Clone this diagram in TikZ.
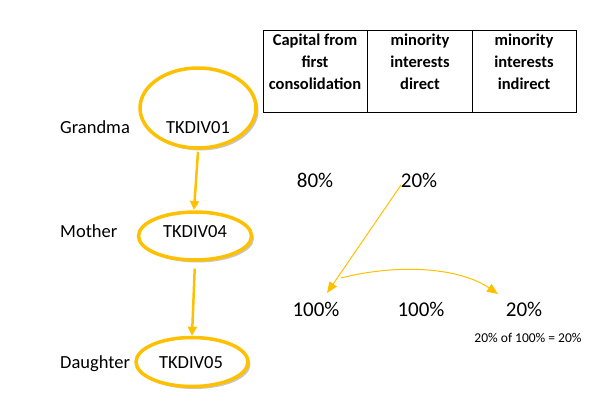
\documentclass[tikz,border=0pt]{standalone}
\usepackage{fontspec}
\setmainfont{Carlito}
\usetikzlibrary{shapes.geometric,arrows.meta,shadows}
\definecolor{gold}{HTML}{FFC000}
\begin{document}
\begin{tikzpicture}[x=1pt,y=-1pt,
  ring/.style={ellipse,draw=gold,line width=3.5pt,fill=white,inner sep=0pt,
    drop shadow={shadow xshift=2.5pt,shadow yshift=-2.5pt,opacity=0.45,fill=gray}},
  lbl/.style={font=\fontsize{18.5}{22}\selectfont,inner sep=0pt,anchor=base},
  pct/.style={font=\fontsize{21}{24}\selectfont,inner sep=0pt,anchor=base},
  hdr/.style={font=\bfseries\fontsize{16.5}{22}\selectfont,align=center,anchor=north,inner sep=0pt},
  thick arrow/.style={draw=gold,line width=2.5pt,-{Triangle[length=9pt,width=9pt]}},
  thin arrow/.style={draw=gold,line width=1pt,-{Triangle[length=11pt,width=9pt]}}
]
\useasboundingbox (0,0) rectangle (612,409);
% ellipses
\node[ring,minimum width=116pt,minimum height=80pt] (g) at (198,108) {};
\node[ring,minimum width=113pt,minimum height=48pt] (m) at (195,236) {};
\node[ring,minimum width=112pt,minimum height=49pt] (d) at (192,362) {};
\node[lbl] (gt) at (198,133) {TKDIV01};
\node[lbl] (mt) at (195,237) {TKDIV04};
\node[lbl] (dt) at (191,368) {TKDIV05};
\node[lbl,anchor=base west] (gl) at (60,133) {Grandma};
\node[lbl,anchor=base west] (ml) at (60,237) {Mother};
\node[lbl,anchor=base west] (dl) at (60,368) {Daughter};
% arrows between ellipses
\draw[thick arrow] (g.south) ++(0,2) coordinate (ga) -- (194,210) coordinate (ma);
\draw[thick arrow,shorten <=7pt] (m.south) -- (d.north);
% table
\draw[line width=1pt] (263,31) rectangle (576,112);
\draw[line width=1pt] (367,31) -- (367,112);
\draw[line width=1pt] (472,31) -- (472,112);
\node[hdr] (h1) at (315,34) {Capital from\\first\\consolidation};
\node[hdr] (h2) at (420,34) {minority\\interests\\direct};
\node[hdr] (h3) at (524,34) {minority\\interests\\indirect};
% percentages
\node[pct] (p80) at (315,187) {80\%};
\node[pct] (p20) at (419,187) {20\%};
\node[pct] (q1) at (316,316) {100\%};
\node[pct] (q2) at (421,316) {100\%};
\node[pct] (q3) at (524,316) {20\%};
\node[font=\fontsize{13.5}{16}\selectfont,inner sep=0pt,anchor=base] (note) at (528,342) {20\% of 100\% = 20\%};
% thin arrows
\coordinate (s1) at (401,185);
\coordinate (e1) at (327,293);
\draw[thin arrow] (s1) -- (e1);
\coordinate (s2) at (341,278);
\coordinate (e2) at (498,294);
\draw[thin arrow] (s2) .. controls (400,263) and (460,268) .. (e2);
\end{tikzpicture}
\end{document}
